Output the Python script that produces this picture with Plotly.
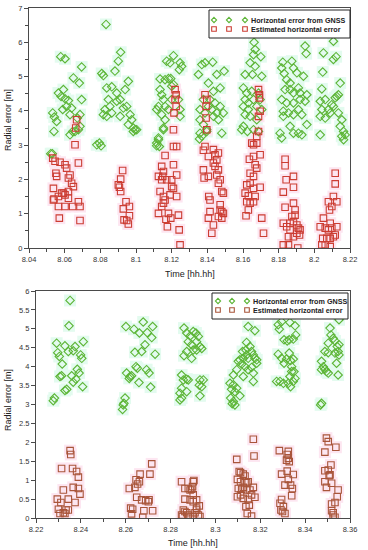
import plotly.graph_objects as go

# ---------------- data ----------------
top_gnss_t = [8.0533,8.0542,8.0540,8.0555,8.0578,8.0602,8.0580,8.0593,8.0565,8.0602,8.0589,8.0611,8.0621,8.0630,8.0639,8.0649,8.0682,8.0695,8.0695,8.0686,8.0671,8.0630,8.0645,8.0686,8.0522,8.0531,8.0658,8.0677,
              8.0832,8.0808,8.0817,8.0836,8.0864,8.0882,8.0901,8.0914,8.0845,8.0854,8.0826,8.0817,8.0836,8.0864,8.0892,8.0911,8.0939,8.0957,8.0929,8.0948,8.0967,8.0976,8.0957,8.0985,8.0995,8.0911,8.0892,8.0780,8.0795,8.0804,8.0985,8.1004,
              8.1135,8.1163,8.1182,8.1195,8.1210,8.1172,8.1191,8.1247,8.1256,8.1243,8.1135,8.1144,8.1154,8.1126,8.1116,8.1144,8.1163,8.1200,8.1210,8.1200,8.1238,8.1247,8.1182,8.1163,8.1247,8.1126,8.1154,8.1116,8.1126,8.1116,8.1131,8.1154,
              8.1350,8.1369,8.1387,8.1430,8.1453,8.1494,8.1406,8.1434,8.1472,8.1378,8.1415,8.1443,8.1359,8.1387,8.1406,8.1425,8.1453,8.1472,8.1434,8.1462,8.1490,8.1359,8.1378,8.1481,8.1369,8.1397,8.1359,8.1356,8.1397,
              8.1662,8.1668,8.1659,8.1640,8.1700,8.1668,8.1612,8.1653,8.1705,8.1602,8.1621,8.1649,8.1687,8.1612,8.1630,8.1659,8.1602,8.1630,8.1612,8.1677,8.1705,8.1696,8.1640,8.1677,8.1602,8.1593,8.1659,8.1625,8.1687,
              8.1817,8.1831,8.1823,8.1874,8.1883,8.1902,8.1939,8.1948,8.1954,8.1845,8.1864,8.1836,8.1864,8.1883,8.1911,8.1920,8.1958,8.1817,8.1845,8.1883,8.1920,8.1948,8.1826,8.1855,8.1883,8.1911,8.1930,8.1826,8.1864,8.1958,8.1911,8.1930,8.1808,8.1817,8.1883,
              8.2107,8.2051,8.2047,8.2042,8.2107,8.2122,8.2033,8.2061,8.2079,8.2098,8.2117,8.2126,8.2135,8.2145,8.2042,8.2033,8.2061,8.2089,8.2107,8.2135,8.2154,8.2145,8.2164,8.2173,8.2033,8.2154,8.2164]
top_gnss_err = [3.94,3.82,3.40,3.69,5.58,5.52,4.42,4.62,4.52,4.35,4.04,4.13,4.30,3.89,4.08,4.96,4.81,5.28,4.33,3.89,3.79,3.30,3.40,3.55,2.75,2.75,3.40,3.45,
                6.52,5.09,5.03,4.67,4.70,5.16,5.45,5.71,4.33,4.13,4.04,3.89,3.84,3.94,4.28,4.33,4.62,4.86,4.08,4.13,3.89,3.74,3.60,3.50,3.45,3.84,4.52,3.01,3.06,2.98,3.40,3.45,
                4.93,4.91,4.94,4.94,5.61,5.45,5.40,5.40,5.30,5.20,4.62,4.47,4.33,4.13,4.04,3.89,4.13,4.72,4.77,4.33,4.33,4.04,4.04,3.74,3.84,3.21,3.50,3.06,3.16,2.98,2.96,3.45,
                5.06,5.35,5.40,5.42,5.06,5.16,4.81,4.57,4.67,4.33,4.33,4.23,4.04,3.94,4.13,4.04,3.94,4.13,3.84,3.74,3.94,3.74,3.60,3.35,3.26,3.40,3.35,3.18,3.45,
                6.00,5.79,5.64,5.40,5.58,5.30,5.06,5.06,5.01,4.67,4.52,4.57,4.52,4.33,4.23,4.33,4.13,4.04,3.89,4.13,4.04,4.33,3.84,3.74,3.55,3.45,3.45,3.40,3.40,
                5.25,5.09,5.42,5.45,5.25,5.11,5.01,5.89,5.67,4.91,4.81,4.62,4.62,4.52,4.67,4.52,4.47,4.33,4.23,4.23,4.33,4.28,3.99,3.94,3.89,4.04,3.89,3.84,3.55,3.60,3.35,3.30,3.35,3.21,3.35,
                6.03,5.69,5.13,4.64,5.50,5.58,4.28,4.33,4.04,4.18,4.38,4.42,4.47,4.81,4.04,3.84,3.79,3.94,4.13,3.94,3.74,3.55,3.40,3.30,3.30,3.26,3.16]

top_est_t = [8.0667,8.0662,8.0658,8.0677,8.0533,8.0546,8.0574,8.0602,8.0611,8.0551,8.0555,8.0630,8.0621,8.0639,8.0649,8.0537,8.0621,8.0583,8.0593,8.0602,8.0565,8.0537,8.0621,8.0677,8.0565,8.0602,8.0645,8.0686,8.0570,8.0686,8.0540,
             8.0925,8.0914,8.0901,8.0907,8.0914,8.0944,8.0929,8.0963,8.0933,8.0948,8.0957,8.0963,
             8.1219,8.1225,8.1219,8.1225,8.1213,8.1210,8.1228,8.1210,8.1163,8.1210,8.1144,8.1154,8.1126,8.1150,8.1144,8.1172,8.1200,8.1228,8.1200,8.1210,8.1191,8.1228,8.1135,8.1154,8.1163,8.1154,8.1144,8.1126,8.1182,8.1238,8.1168,8.1195,8.1176,8.1242,8.1247,
             8.1387,8.1397,8.1393,8.1393,8.1397,8.1387,8.1378,8.1434,8.1443,8.1462,8.1406,8.1453,8.1434,8.1443,8.1462,8.1453,8.1378,8.1382,8.1406,8.1472,8.1462,8.1481,8.1490,8.1408,8.1415,8.1472,8.1415,8.1481,8.1406,8.1462,8.1481,8.1472,8.1434,8.1425,8.1490,
             8.1687,8.1692,8.1692,8.1687,8.1696,8.1687,8.1677,8.1649,8.1659,8.1677,8.1659,8.1696,8.1636,8.1668,8.1677,8.1640,8.1659,8.1621,8.1640,8.1612,8.1659,8.1696,8.1630,8.1668,8.1621,8.1640,8.1659,8.1630,8.1617,8.1705,8.1715,
             8.1836,8.1836,8.1842,8.1826,8.1883,8.1883,8.1836,8.1892,8.1883,8.1826,8.1845,8.1864,8.1883,8.1892,8.1902,8.1911,8.1920,8.1864,8.1855,8.1883,8.1902,8.1917,8.1826,8.1855,8.1907,8.1874,
             8.2117,8.2117,8.2107,8.2079,8.2126,8.2085,8.2098,8.2051,8.2033,8.2061,8.2089,8.2126,8.2079,8.2098,8.2047,8.2070,8.2089,8.2107,8.2117,8.2042,8.2061,8.2089]
top_est_err = [3.74,3.50,3.01,2.48,2.62,2.53,2.50,2.43,2.33,2.18,2.09,2.13,2.04,1.89,1.79,1.74,1.65,1.60,1.60,1.55,1.50,1.40,1.45,1.35,1.21,1.21,1.21,1.21,0.87,0.80,1.43,
               2.26,2.01,1.84,1.77,1.65,1.35,1.14,1.21,0.82,0.80,0.70,0.94,
               4.62,4.47,4.33,4.13,3.94,3.45,2.96,2.96,2.70,2.43,2.38,2.23,2.09,2.09,1.99,1.99,1.99,2.13,1.79,1.74,1.55,1.50,1.65,1.50,1.40,1.31,1.21,1.01,1.01,0.96,0.84,0.87,0.62,0.53,0.09,
               4.47,4.33,4.13,3.79,3.45,2.96,2.85,2.87,2.72,2.77,2.67,2.57,2.48,2.38,2.28,2.13,2.28,2.04,2.09,1.99,1.89,1.65,1.60,1.50,1.40,1.26,1.06,1.06,0.87,0.92,0.87,1.11,0.67,0.43,1.01,
               4.62,4.47,4.38,3.84,3.99,3.40,3.26,3.06,3.01,3.06,2.67,2.72,2.59,2.43,2.33,2.18,2.09,1.84,1.89,1.60,1.74,1.77,1.52,1.50,1.35,1.31,1.35,1.11,0.94,0.87,0.43,
               2.59,2.40,1.99,1.63,2.09,1.77,1.19,1.11,1.31,0.72,0.62,0.72,0.77,0.96,0.67,0.58,0.53,0.53,0.33,0.33,0.43,0.38,0.09,0.09,0.00,0.92,
               2.18,1.87,1.50,1.35,1.35,1.11,1.21,0.87,0.62,0.58,0.72,0.62,0.53,0.58,0.28,0.28,0.28,0.33,0.38,0.09,0.09,0.04]

bot_gnss_t = [8.2352,8.2347,8.2292,8.2329,8.2297,8.2304,8.2317,8.2344,8.2366,8.2374,8.2399,8.2404,8.2411,8.2384,8.2392,8.2359,8.2307,8.2314,8.2378,8.2366,8.2408,8.2329,8.2337,8.2282,8.2277,
              8.2601,8.2637,8.2678,8.2720,8.2661,8.2696,8.2716,8.2641,8.2671,8.2686,8.2731,8.2604,8.2619,8.2616,8.2626,8.2646,8.2652,8.2659,8.2693,8.2704,8.2711,8.2597,8.2592,8.2589,8.2586,
              8.2860,8.2872,8.2887,8.2901,8.2913,8.2879,8.2924,8.2894,8.2901,8.2872,8.2860,8.2894,8.2916,8.2931,8.2939,8.2916,8.2849,8.2857,8.2879,8.2872,8.2849,8.2842,8.2849,8.2872,8.2931,8.2939,8.2928,8.2946,8.2931,8.2842,
              8.3065,8.3080,8.3072,8.3095,8.3087,8.3109,8.3068,8.3080,8.3087,8.3080,8.3095,8.3102,8.3109,8.3117,8.3124,8.3136,8.3121,8.3139,8.3146,8.3139,8.3154,8.3161,8.3169,8.3176,8.3184,8.3132,8.3146,8.3161,8.3169,8.3184,8.3124,8.3146,8.3176,8.3169,8.3075,
              8.3280,8.3295,8.3285,8.3310,8.3355,8.3332,8.3306,8.3329,8.3347,8.3358,8.3320,8.3280,8.3295,8.3306,8.3317,8.3329,8.3335,8.3347,8.3340,8.3340,8.3350,8.3355,8.3332,8.3273,8.3288,8.3303,8.3325,8.3335,8.3347,
              8.3551,8.3511,8.3515,8.3503,8.3525,8.3533,8.3488,8.3503,8.3533,8.3547,8.3543,8.3551,8.3551,8.3540,8.3473,8.3481,8.3488,8.3495,8.3503,8.3473,8.3547,8.3473,8.3469]
bot_gnss_err = [5.75,5.08,4.62,4.55,4.37,4.27,4.07,4.40,4.42,4.53,4.31,4.22,4.66,3.93,3.83,3.76,3.74,3.76,3.67,3.59,3.47,3.37,3.40,3.17,3.10,
                5.06,4.99,5.18,5.06,4.89,4.90,4.77,4.38,4.40,4.58,4.33,3.83,3.74,3.69,3.76,4.00,3.96,3.58,3.92,3.83,3.46,3.17,3.03,2.99,2.87,
                5.02,4.89,4.81,4.93,4.89,4.66,4.80,4.58,4.44,4.40,4.29,4.22,4.44,4.53,4.48,4.66,3.78,3.65,3.65,3.67,3.43,3.30,3.17,3.34,3.65,3.47,3.51,3.65,3.23,3.12,
                3.56,3.52,3.40,3.43,3.34,3.23,3.17,3.08,2.99,3.78,3.92,4.14,4.18,4.07,4.22,4.44,4.40,4.31,4.22,4.64,4.53,4.40,4.31,4.22,4.09,4.00,3.92,3.98,3.83,4.18,3.74,5.06,4.95,3.61,3.02,
                5.11,5.19,4.99,5.41,5.08,5.17,4.71,4.71,4.73,4.84,4.68,4.33,4.22,4.09,4.20,4.36,4.16,4.20,4.00,3.87,3.87,3.69,3.74,3.61,3.61,3.56,3.56,3.47,3.61,
                5.24,5.02,4.84,4.62,4.75,4.68,4.40,4.37,4.36,4.40,4.53,4.58,4.31,4.09,4.14,4.00,3.93,3.87,3.83,3.92,3.78,3.03,2.99]

bot_est_t = [8.2352,8.2355,8.2314,8.2322,8.2363,8.2381,8.2389,8.2366,8.2389,8.2396,8.2374,8.2344,8.2295,8.2311,8.2300,8.2307,8.2322,8.2334,8.2344,8.2329,
             8.2716,8.2708,8.2664,8.2646,8.2661,8.2653,8.2641,8.2616,8.2649,8.2671,8.2689,8.2701,8.2704,8.2622,8.2631,8.2626,8.2681,8.2720,8.2676,
             8.2849,8.2879,8.2887,8.2894,8.2898,8.2901,8.2904,8.2864,8.2864,8.2887,8.2901,8.2901,8.2916,8.2928,8.2916,8.2924,8.2857,8.2864,8.2872,8.2849,8.2879,8.2853,8.2887,8.2901,8.2931,8.2916,8.2909,
             8.3095,8.3106,8.3112,8.3124,8.3132,8.3098,8.3112,8.3132,8.3139,8.3146,8.3102,8.3117,8.3124,8.3139,8.3154,8.3169,8.3112,8.3098,8.3124,8.3146,8.3161,8.3176,8.3136,8.3151,8.3142,8.3161,8.3169,8.3172,
             8.3285,8.3325,8.3320,8.3325,8.3329,8.3317,8.3295,8.3320,8.3347,8.3325,8.3310,8.3335,8.3343,8.3340,8.3295,8.3288,8.3303,8.3292,8.3299,8.3310,
             8.3495,8.3503,8.3537,8.3488,8.3515,8.3503,8.3488,8.3511,8.3507,8.3488,8.3518,8.3495,8.3547,8.3543,8.3533,8.3518,8.3518,8.3525,8.3533,8.3525]
bot_est_err = [1.78,1.68,1.31,0.74,1.31,1.23,1.08,0.81,0.78,0.63,0.41,0.50,0.50,0.41,0.23,0.12,0.14,0.21,0.21,0.12,
               1.43,1.16,1.16,1.01,0.96,0.90,0.81,0.78,0.55,0.48,0.46,0.43,0.48,0.26,0.23,0.11,0.19,0.19,0.02,
               0.96,0.78,0.74,0.76,0.83,0.96,0.99,0.78,0.50,0.48,0.61,0.43,0.48,0.32,0.26,0.08,0.21,0.17,0.14,0.08,0.08,0.04,0.04,0.04,0.04,0.21,0.14,
               1.55,1.23,1.20,1.16,1.11,1.02,0.96,0.93,0.93,0.96,0.78,0.76,0.81,0.74,0.74,0.81,0.61,0.56,0.52,0.49,0.61,0.55,0.30,0.34,0.12,0.05,2.08,1.64,
               1.78,1.76,1.68,1.58,1.49,1.53,1.16,1.24,1.15,1.02,0.87,0.87,0.78,0.59,0.49,0.39,0.30,0.21,0.17,0.12,
               2.11,2.02,1.87,1.74,1.40,1.27,1.25,1.14,1.12,0.96,0.92,0.81,0.74,0.56,0.41,0.37,0.19,0.14,0.02,0.08]

top_x_ticks = [8.04, 8.06, 8.08, 8.10, 8.12, 8.14, 8.16, 8.18, 8.20, 8.22]
top_x_labels = ["8.04", "8.06", "8.08", "8.1", "8.12", "8.14", "8.16", "8.18", "8.2", "8.22"]
top_y_ticks = [0, 1, 2, 3, 4, 5, 6, 7]
top_y_labels = ["0", "1", "2", "3", "4", "5", "6", "7"]
bot_x_ticks = [8.22, 8.24, 8.26, 8.28, 8.30, 8.32, 8.34, 8.36]
bot_x_labels = ["8.22", "8.24", "8.26", "8.28", "8.3", "8.32", "8.34", "8.36"]
bot_y_ticks = [0, 0.5, 1, 1.5, 2, 2.5, 3, 3.5, 4, 4.5, 5, 5.5, 6]
bot_y_labels = ["0", "0.5", "1", "1.5", "2", "2.5", "3", "3.5", "4", "4.5", "5", "5.5", "6"]

series_names = ["Horizontal error from GNSS", "Estimated horizontal error"]
axis_title_x = "Time [hh.hh]"
axis_title_y = "Radial error [m]"

# ---------------- layout geometry (window pixels) ----------------
FW, FH = 368, 550

def fx(px):
    return px / FW

def fy(py):
    return (FH - py) / FH

GREEN = "#5cb536"
RED_TOP = "#cc3d33"
RED_BOT = "#a9553a"
HALO_G = "#e3fbef"
HALO_R = "#fde6f1"
AX = "#4a4a4a"
FONT = "Liberation Sans, Arial, sans-serif"

fig = go.Figure()

def halo(xs, ys, xa, ya, col):
    fig.add_trace(go.Scatter(x=xs, y=ys, xaxis=xa, yaxis=ya, mode="markers",
                             marker=dict(symbol="square", size=12, color=col, line=dict(width=0)),
                             showlegend=False, hoverinfo="skip"))

def points(xs, ys, xa, ya, color, symbol, name):
    fig.add_trace(go.Scatter(x=xs, y=ys, xaxis=xa, yaxis=ya, mode="markers",
                             marker=dict(symbol=symbol, size=6.5, color=color,
                                         line=dict(width=1.1, color=color)),
                             name=name, showlegend=False))

halo(top_gnss_t, top_gnss_err, "x", "y", HALO_G)
halo(top_est_t, top_est_err, "x", "y", HALO_R)
halo(bot_gnss_t, bot_gnss_err, "x2", "y2", HALO_G)
halo(bot_est_t, bot_est_err, "x2", "y2", HALO_R)
points(top_gnss_t, top_gnss_err, "x", "y", GREEN, "diamond-open", series_names[0])
points(top_est_t, top_est_err, "x", "y", RED_TOP, "square-open", series_names[1])
points(bot_gnss_t, bot_gnss_err, "x2", "y2", GREEN, "diamond-open", series_names[0])
points(bot_est_t, bot_est_err, "x2", "y2", RED_BOT, "square-open", series_names[1])

tickfont = dict(family=FONT, size=7.5, color="#333")
axis_common = dict(showline=True, linecolor=AX, linewidth=1, mirror=True, ticks="outside",
                   ticklen=4, tickcolor=AX, tickwidth=1, showgrid=False, zeroline=False,
                   tickfont=tickfont, automargin=False)

fig.update_layout(
    width=FW, height=FH, margin=dict(l=0, r=0, t=0, b=0, autoexpand=False),
    paper_bgcolor="white", plot_bgcolor="white", showlegend=False,
    font=dict(family=FONT, color="#222"),
    xaxis=dict(domain=[fx(29), fx(350)], range=[8.04, 8.22], anchor="y",
               tickvals=top_x_ticks, ticktext=top_x_labels,
               minor=dict(dtick=0.01, tick0=8.04, ticks="outside", ticklen=3, tickcolor=AX),
               **axis_common),
    yaxis=dict(domain=[fy(248), fy(8)], range=[0, 7], anchor="x",
               tickvals=top_y_ticks, ticktext=top_y_labels,
               minor=dict(dtick=0.5, tick0=0, ticks="outside", ticklen=3, tickcolor=AX),
               **axis_common),
    xaxis2=dict(domain=[fx(36), fx(350)], range=[8.22, 8.36], anchor="y2",
                tickvals=bot_x_ticks, ticktext=bot_x_labels,
                minor=dict(dtick=0.01, tick0=8.22, ticks="outside", ticklen=3, tickcolor=AX),
                **axis_common),
    yaxis2=dict(domain=[fy(518), fy(291)], range=[0, 6], anchor="x2",
                tickvals=bot_y_ticks, ticktext=bot_y_labels,
                **axis_common),
)

# ---------------- axis titles ----------------
title_font = dict(family=FONT, size=9, color="#222")
def ann_px(text, x, y, angle=0, font=title_font, xanchor="center"):
    fig.add_annotation(text=text, xref="paper", yref="paper", x=fx(x), y=fy(y),
                       showarrow=False, font=font, textangle=angle,
                       xanchor=xanchor, yanchor="middle")

ann_px(axis_title_x, 190, 274)
ann_px(axis_title_x, 193, 543)
ann_px(axis_title_y, 8, 120, -90)
ann_px(axis_title_y, 8, 400, -90)

# ---------------- legends (box, 3 sample symbols per row, label) ----------------
leg_font = dict(family=FONT, size=7.2, color="#222", weight="bold")

def legend_box(x0, y0, x1, y1, rows, sym_x, text_x, colors):
    fig.add_shape(type="rect", xref="paper", yref="paper",
                  x0=fx(x0), x1=fx(x1), y0=fy(y1), y1=fy(y0),
                  line=dict(color="#222", width=1), fillcolor="white", layer="above")
    for (ry, label, kind), col in zip(rows, colors):
        for sx in sym_x:
            r = 2.6
            if kind == "diamond":
                path = (f"M {fx(sx)} {fy(ry - r)} L {fx(sx + r)} {fy(ry)} "
                        f"L {fx(sx)} {fy(ry + r)} L {fx(sx - r)} {fy(ry)} Z")
                fig.add_shape(type="path", xref="paper", yref="paper", path=path,
                              line=dict(color=col, width=1.1), layer="above")
            else:
                q = r - 0.3
                fig.add_shape(type="rect", xref="paper", yref="paper",
                              x0=fx(sx - q), x1=fx(sx + q), y0=fy(ry + q), y1=fy(ry - q),
                              line=dict(color=col, width=1.1), layer="above")
        ann_px(label, text_x, ry, font=leg_font, xanchor="left")

legend_box(209, 10, 350, 38,
           [(20, series_names[0], "diamond"), (29, series_names[1], "square")],
           [214, 229, 245], 249, [GREEN, RED_TOP])
legend_box(212, 293, 348, 319,
           [(301, series_names[0], "diamond"), (310, series_names[1], "square")],
           [218, 232, 247], 251, [GREEN, RED_BOT])

# the page's default 8px body margin would shift the figure; remove it
fig.write_html("out.html", config={"displayModeBar": False},
               post_script="document.body.style.margin='0px';")
